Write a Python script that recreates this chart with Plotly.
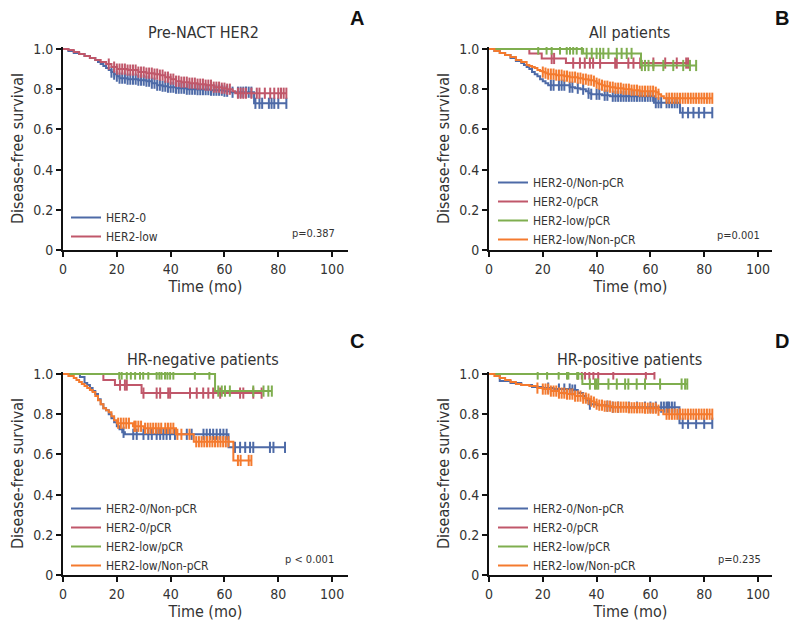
import numpy as np
import plotly.graph_objects as go
from plotly.subplots import make_subplots

FONT = "DejaVu Sans Condensed, Liberation Sans Narrow, sans-serif"
BLUE = "#4d6aa7"
RED = "#c0576a"
GREEN = "#7fae4f"
ORANGE = "#f47a2e"

# ---- A: Pre-NACT HER2 ----
a_her2_0_t = [0, 2, 4, 6, 8, 10, 12, 13, 14, 15, 16, 17, 18, 19, 20, 21, 24, 28, 31, 33, 35, 37, 39, 42, 46, 50, 55, 60, 62, 71]
a_her2_0_s = [1, .99, .98, .975, .965, .955, .945, .935, .925, .915, .905, .895, .885, .875, .865, .855, .85, .845, .84, .83, .82, .815, .81, .805, .80, .798, .795, .79, .785, .73]
a_her2_0_c = [18, 19, 20, 21, 22, 23, 24, 25, 26, 27, 28, 29, 30, 31, 32, 33, 34, 35, 36, 37, 38, 39, 40, 41, 42, 43, 44, 45,
              46, 47, 48, 49, 50, 51, 52, 53, 54, 55, 56, 57, 58, 59, 60, 61, 63, 65, 66, 67, 68, 69, 70, 71.5, 73, 74,
              76.5, 77.5, 78.5, 80, 83]
a_her2_low_t = [0, 2, 4, 6, 8, 10, 12, 14, 16, 18, 20, 24, 28, 31, 34, 36, 38, 40, 42, 44, 47, 50, 53, 56, 59, 61, 63, 64]
a_her2_low_s = [1, .995, .985, .975, .965, .955, .945, .935, .925, .91, .90, .895, .885, .88, .875, .87, .86, .85, .84, .835, .83, .825, .82, .81, .805, .80, .79, .78]
a_her2_low_c = [17, 19, 20, 21, 22, 23, 24, 25, 26, 27, 28, 29, 30, 31, 32, 33, 34, 35, 36, 37, 38, 39, 40, 41, 42, 43, 44, 45,
                46, 47, 48, 49, 50, 51, 52, 53, 54, 55, 56, 57, 58, 59, 60, 61, 62, 65, 66, 67, 68, 70, 72, 73, 75, 77,
                78.5, 80, 81, 82, 83]

# ---- B: All patients ----
b_0_non_t = [0, 2, 4, 6, 8, 10, 12, 13, 14, 15, 16, 17, 18, 19, 20, 21, 22, 30, 32, 34, 36, 37, 38, 42, 45, 61.3, 71]
b_0_non_s = [1, .99, .98, .97, .955, .94, .93, .92, .91, .90, .885, .875, .865, .85, .84, .83, .82, .81, .805, .80, .79, .78, .775, .77, .765, .733, .683]
b_0_non_c = [23, 24, 26, 27, 28, 30, 31, 33, 35, 37, 38, 40, 41, 43, 44, 46, 47, 48, 49, 50, 51, 52, 53, 54, 55, 56, 57, 58,
             59, 60, 61, 62, 63, 64, 66, 67, 68, 69, 70, 72, 74, 76, 78, 80, 83]
b_0_pcr_t = [0, 15, 19.6, 28.6]
b_0_pcr_s = [1, .978, .953, .93]
b_0_pcr_c = [23.3, 24.2, 31.3, 33.8, 35.6, 37.5, 38.7, 41.3, 46.9, 47.5, 51.8, 53.7, 56.2, 61.1, 65.5, 69.8, 73.3, 74]
b_low_pcr_t = [0, 35, 56.5]
b_low_pcr_s = [1, .978, .918]
b_low_pcr_c = [18.3, 21.4, 23.3, 26.4, 28.9, 30.1, 31.3, 32.6, 34.5, 36.3, 38.2, 40, 41.3, 42.5, 44.4, 47.5, 49.3, 51.2,
               53, 56.8, 58, 59.3, 61.1, 64.8, 68.5, 72.2, 74.7, 77]
b_low_non_t = [0, 2, 4, 6, 8, 10, 12, 14, 15, 16, 17, 18, 19, 20, 21, 22, 25, 28, 30, 33, 35, 37, 39, 40, 41, 42, 43, 45,
               47, 50, 53, 56, 62, 63, 64, 65]
b_low_non_s = [1, .99, .98, .97, .96, .945, .935, .92, .915, .91, .905, .895, .89, .885, .88, .875, .87, .865, .86, .855,
               .85, .845, .84, .83, .825, .82, .815, .81, .805, .80, .795, .79, .785, .775, .765, .755]
b_low_non_c = [20, 21, 22, 23, 24, 25, 26, 27, 28, 29, 30, 31, 32, 33, 34, 35, 36, 37, 38, 39, 40, 41, 42, 43, 44, 45, 46,
               47, 48, 49, 50, 51, 52, 53, 54, 55, 56, 57, 58, 59, 60, 61, 62, 63, 66, 67, 68, 69, 70, 71, 72, 73, 74,
               75, 76, 77, 78, 79, 80, 81, 82, 83]

# ---- C: HR-negative patients ----
c_0_non_t = [0, 6.3, 8, 9, 10, 11, 12, 13, 14, 15, 16, 17, 18, 19, 20, 21, 22, 23, 61.5]
c_0_non_s = [1, .985, .955, .945, .93, .915, .90, .875, .85, .83, .82, .80, .78, .76, .74, .725, .71, .70, .635]
c_0_non_c = [22.5, 26.1, 27.4, 29.9, 31.7, 33, 34.8, 36.1, 37.3, 38.5, 39.8, 41.6, 46, 47.8, 52.2, 53.4, 54.6, 55.8,
             57.1, 58.4, 59.6, 60.8, 63.9, 65.8, 67.7, 69.5, 70.7, 76.9, 78.2, 82.5]
c_0_pcr_t = [0, 15, 19.3, 29.2]
c_0_pcr_s = [1, .97, .945, .905]
c_0_pcr_c = [21.2, 23, 23.7, 29.9, 34.8, 36.1, 39.1, 39.8, 47.2, 49.7, 52.1, 54, 55.8, 58.4, 65.8, 67, 70.7, 73.8]
c_low_pcr_t = [0, 56.5]
c_low_pcr_s = [1, .915]
c_low_pcr_c = [20.9, 21.8, 23.7, 25.2, 26.8, 28.6, 29.8, 31.7, 34.8, 35.8, 36.6, 37.9, 38.8, 39.8, 41, 49, 54.4, 57.7,
               59, 60.2, 62, 70.7, 74.5, 76.3, 77.6]
c_low_non_t = [0, 2, 4, 5, 6, 7, 8, 9, 10, 11, 12, 13, 14, 15, 16, 17, 18, 19, 20, 26, 30, 42, 48.6, 63.3]
c_low_non_s = [1, .99, .98, .97, .96, .95, .94, .93, .92, .91, .89, .87, .85, .83, .82, .81, .79, .77, .755, .74, .73, .70, .663, .57]
c_low_non_c = [20.5, 21.5, 22.5, 23.5, 24.5, 26.5, 27, 28, 29, 30.5, 31.5, 32.5, 33.5, 34.5, 35.5, 36.5, 38, 39, 40, 41,
               42.5, 44, 47, 49.5, 50.5, 51.5, 52.5, 53.5, 54.5, 55.5, 56.5, 57.5, 58.5, 59.5, 60.5, 61.5, 65, 66, 69, 70]

# ---- D: HR-positive patients ----
d_0_non_t = [0, 4, 8, 12, 16, 20, 24, 31, 33, 35, 36, 37, 40, 44, 45, 70.8]
d_0_non_s = [1, .965, .955, .945, .935, .93, .925, .92, .905, .89, .87, .85, .845, .84, .835, .755]
d_0_non_c = [22, 26, 28, 30, 31, 32, 37.5, 44, 46, 48, 52, 55, 58, 60, 62, 64, 65, 66, 66.5, 67, 68, 69, 72, 74, 77, 80, 83]
d_0_pcr_t = [0]
d_0_pcr_s = [1]
d_0_pcr_c = [33, 34.5, 35.7, 37.3, 38.8, 40.6, 46.2, 58.3, 61.5]
d_low_pcr_t = [0, 34.7]
d_low_pcr_s = [1, .95]
d_low_pcr_c = [18.1, 21.6, 25.9, 29, 29.5, 32.8, 33.2, 37.5, 39.4, 40, 40.6, 44.4, 47.5, 50.6, 51.8, 54.9, 58, 63.6,
               71.6, 72.9, 73.7]
d_low_non_t = [0, 2, 4, 6, 8, 10, 12, 15, 18, 20, 23, 26, 29, 32, 35, 37, 38, 39, 40, 41, 43, 46, 52, 58, 63, 64.8]
d_low_non_s = [1, .99, .98, .97, .96, .95, .945, .94, .93, .925, .915, .905, .90, .89, .88, .875, .865, .86, .85, .845,
               .84, .835, .832, .83, .82, .80]
d_low_non_c = [18, 20, 21, 22, 23, 24, 25, 26, 27, 28, 29, 30, 31, 32, 33, 34, 35, 36, 37, 38, 39, 40, 41, 42, 43, 44, 45,
               46, 47, 48, 49, 50, 51, 52, 53, 54, 55, 56, 57, 58, 59, 60, 61, 62, 63, 66, 67, 68, 69, 70, 71, 72, 73,
               74, 75, 76, 77, 78, 79, 80, 81, 82, 83]

panel_titles = ["Pre-NACT HER2", "All patients", "HR-negative patients", "HR-positive patients"]
panel_letters = ["A", "B", "C", "D"]
p_values = ["p=0.387", "p=0.001", "p < 0.001", "p=0.235"]
y_ticks = [0, 0.2, 0.4, 0.6, 0.8, 1.0]
y_ticktext = ["0", "0.2", "0.4", "0.6", "0.8", "1.0"]
x_ticks = [0, 20, 40, 60, 80, 100]

panels = [
    [("HER2-0", BLUE, a_her2_0_t, a_her2_0_s, a_her2_0_c),
     ("HER2-low", RED, a_her2_low_t, a_her2_low_s, a_her2_low_c)],
    [("HER2-0/Non-pCR", BLUE, b_0_non_t, b_0_non_s, b_0_non_c),
     ("HER2-0/pCR", RED, b_0_pcr_t, b_0_pcr_s, b_0_pcr_c),
     ("HER2-low/pCR", GREEN, b_low_pcr_t, b_low_pcr_s, b_low_pcr_c),
     ("HER2-low/Non-pCR", ORANGE, b_low_non_t, b_low_non_s, b_low_non_c)],
    [("HER2-0/Non-pCR", BLUE, c_0_non_t, c_0_non_s, c_0_non_c),
     ("HER2-0/pCR", RED, c_0_pcr_t, c_0_pcr_s, c_0_pcr_c),
     ("HER2-low/pCR", GREEN, c_low_pcr_t, c_low_pcr_s, c_low_pcr_c),
     ("HER2-low/Non-pCR", ORANGE, c_low_non_t, c_low_non_s, c_low_non_c)],
    [("HER2-0/Non-pCR", BLUE, d_0_non_t, d_0_non_s, d_0_non_c),
     ("HER2-0/pCR", RED, d_0_pcr_t, d_0_pcr_s, d_0_pcr_c),
     ("HER2-low/pCR", GREEN, d_low_pcr_t, d_low_pcr_s, d_low_pcr_c),
     ("HER2-low/Non-pCR", ORANGE, d_low_non_t, d_low_non_s, d_low_non_c)],
]

W, H = 797, 632
OFF = 8  # page body margin in the browser


def px_x(v):
    return (v - OFF) / W


def px_y(v):
    return 1 - (v - OFF) / H


# pixel boxes of each plot area: (left, right, top, bottom)
boxes = [(63, 348, 47, 250), (489, 772, 47, 250), (63, 348, 372, 575), (489, 772, 372, 575)]
x_ranges = [105.9, 105.2, 105.9, 105.2]
legend_pos = [(66, 203), (493, 168), (66, 494), (493, 494)]
pval_pos = [(337, 233), (762, 235), (336, 559), (763, 559)]
title_pos = [(203, 33), (629, 33), (203, 359), (629, 359)]
letter_pos = [(357, 18), (782, 18), (357, 341), (782, 341)]

fig = make_subplots(rows=2, cols=2)

for i, curves in enumerate(panels):
    row, col = i // 2 + 1, i % 2 + 1
    leg = "legend" if i == 0 else f"legend{i + 1}"
    for name, color, t, s, cens in curves:
        t = np.array(t, float)
        s = np.array(s, float)
        c = np.array(cens, float)
        end = max(t[-1], c.max())
        fig.add_trace(go.Scatter(
            x=np.append(t, end), y=np.append(s, s[-1]), mode="lines", line_shape="hv",
            line=dict(color=color, width=2), name=name, legend=leg, hoverinfo="skip"),
            row=row, col=col)
        cy = s[np.searchsorted(t, c, side="right") - 1]
        fig.add_trace(go.Scatter(
            x=c, y=cy, mode="markers", showlegend=False, legend=leg,
            marker=dict(symbol="line-ns", size=8, line=dict(color=color, width=2))),
            row=row, col=col)

annotations = []
for i in range(4):
    l, r, tp, b = boxes[i]
    sfx = "" if i == 0 else str(i + 1)
    fig.layout["xaxis" + sfx].update(
        domain=[px_x(l), px_x(r)], range=[0, x_ranges[i]], tickvals=x_ticks,
        title=dict(text="Time (mo)", font=dict(size=16, color="#333"), standoff=4))
    fig.layout["yaxis" + sfx].update(
        domain=[px_y(b), px_y(tp)], range=[0, 1.01], tickvals=y_ticks, ticktext=y_ticktext,
        title=dict(text="Disease-free survival", font=dict(size=16, color="#333"), standoff=6))
    lx, ly = legend_pos[i]
    fig.layout["legend" + sfx] = dict(
        x=px_x(lx), y=px_y(ly), xanchor="left", yanchor="top", bgcolor="rgba(0,0,0,0)",
        font=dict(size=12, family=FONT, color="#333"), tracegroupgap=0, itemwidth=30)
    pxv, pyv = pval_pos[i]
    annotations.append(dict(text=p_values[i], x=px_x(pxv), y=px_y(pyv), xref="paper", yref="paper",
                            xanchor="right", yanchor="middle", showarrow=False,
                            font=dict(size=11, color="#333")))
    tx, ty = title_pos[i]
    annotations.append(dict(text=panel_titles[i], x=px_x(tx), y=px_y(ty), xref="paper", yref="paper",
                            xanchor="center", yanchor="middle", showarrow=False,
                            font=dict(size=16, color="#333")))
    ax, ay = letter_pos[i]
    annotations.append(dict(text="<b>" + panel_letters[i] + "</b>", x=px_x(ax), y=px_y(ay),
                            xref="paper", yref="paper", xanchor="center", yanchor="middle",
                            showarrow=False, font=dict(size=20, color="#111", family="Liberation Sans, Arial")))

fig.update_xaxes(showline=True, linewidth=2, linecolor="#111", ticks="outside", ticklen=5, tickwidth=2,
                 tickcolor="#111", showgrid=False, zeroline=False, automargin=False,
                 tickfont=dict(size=14, color="#333"))
fig.update_yaxes(showline=True, linewidth=2, linecolor="#111", ticks="outside", ticklen=5, tickwidth=2,
                 tickcolor="#111", showgrid=False, zeroline=False, automargin=False,
                 tickfont=dict(size=14, color="#333"))

fig.update_layout(
    width=W, height=H, margin=dict(l=0, r=0, t=0, b=0),
    plot_bgcolor="white", paper_bgcolor="white",
    font=dict(family=FONT, color="#333"),
    annotations=annotations,
)

fig.write_html("out.html")
